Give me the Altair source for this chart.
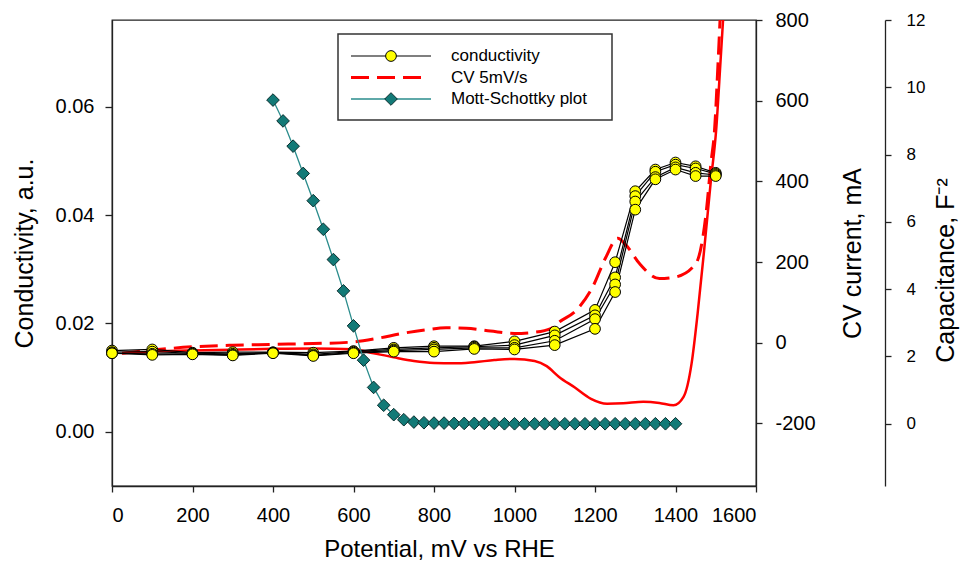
import altair as alt
import pandas as pd

# ---------------- data ----------------
cond_potential = [0, 100, 200, 300, 400, 500, 600, 700, 800, 900, 1000, 1100,
                  1200, 1250, 1300, 1350, 1400, 1450, 1500]
cond_cycle1 = [0.0150, 0.0152, 0.0146, 0.0147, 0.0147, 0.0146, 0.0149, 0.0155, 0.0158, 0.0158,
               0.0167, 0.0185, 0.0225, 0.0313, 0.0444, 0.0484, 0.0497, 0.0490, 0.0478]
cond_cycle2 = [0.0147, 0.0148, 0.0145, 0.0144, 0.0146, 0.0143, 0.0148, 0.0152, 0.0155, 0.0157,
               0.0160, 0.0178, 0.0215, 0.0285, 0.0435, 0.0480, 0.0493, 0.0486, 0.0476]
cond_cycle3 = [0.0145, 0.0144, 0.0144, 0.0142, 0.0146, 0.0141, 0.0146, 0.0150, 0.0152, 0.0155,
               0.0155, 0.0168, 0.0208, 0.0272, 0.0425, 0.0470, 0.0488, 0.0478, 0.0474]
cond_cycle4 = [0.0145, 0.0142, 0.0143, 0.0141, 0.0145, 0.0140, 0.0145, 0.0148, 0.0148, 0.0153,
               0.0152, 0.0160, 0.0190, 0.0258, 0.0410, 0.0466, 0.0484, 0.0472, 0.0472]

cv_fwd_potential = [25, 100, 200, 300, 400, 500, 600, 650, 700, 750, 800, 850, 900, 950, 1000,
                    1050, 1080, 1110, 1150, 1190, 1230, 1270, 1320, 1360, 1395, 1420, 1440,
                    1455, 1472, 1488, 1501, 1512, 1520]
cv_fwd_current = [-26, -22, -19, -17, -15, -14, -16, -26, -36, -45, -50, -51, -48, -43, -40,
                  -45, -58, -84, -111, -139, -151, -150, -146, -149, -155, -134, -51,
                  73, 238, 403, 527, 700, 830]

cv_rev_potential = [25, 100, 200, 300, 400, 500, 600, 660, 720, 780, 830, 880, 940, 1000,
                    1050, 1090, 1112, 1153, 1194, 1227, 1256, 1277, 1310, 1360, 1400, 1451,
                    1476, 1488, 1497, 1506, 1512]
cv_rev_current = [-26, -18, -10, -6, -4, -2, 2, 11, 23, 32, 37, 36, 29, 23,
                  26, 35, 52, 80, 138, 212, 259, 242, 197, 159, 163, 197,
                  321, 445, 527, 700, 830]

ms_potential = [400, 425, 450, 475, 500, 525, 550, 575, 600, 625, 650, 675, 700, 725, 750,
                775, 800, 825, 850, 875, 900, 925, 950, 975, 1000, 1025, 1050, 1075, 1100,
                1125, 1150, 1175, 1200, 1225, 1250, 1275, 1300, 1325, 1350, 1375, 1400]
ms_capacitance = [9.62, 9.00, 8.25, 7.44, 6.63, 5.78, 4.88, 3.95, 2.91, 1.89, 1.08, 0.55,
                  0.27, 0.12, 0.05, 0.03, 0.02, 0.02, 0.01, 0.01, 0.01, 0.01, 0.01, 0.0,
                  0.0, 0.0, 0.0, 0.0, 0.0, 0.0, 0.0, 0.0, 0.0, 0.0, 0.0, 0.0, 0.0, 0.0,
                  0.0, 0.0, 0.0]

legend_labels = ["conductivity", "CV 5mV/s", "Mott-Schottky plot"]

x_ticks = [0, 200, 400, 600, 800, 1000, 1200, 1400, 1600]
cond_ticks = [0.0, 0.02, 0.04, 0.06]
cv_ticks = [-200, 0, 200, 400, 600, 800]
cap_ticks = [0, 2, 4, 6, 8, 10, 12]

# ---------------- tables ----------------
cond_rows = []
for name, vals in [("c1", cond_cycle1), ("c2", cond_cycle2), ("c3", cond_cycle3), ("c4", cond_cycle4)]:
    for p, v in zip(cond_potential, vals):
        cond_rows.append({"potential": p, "cond": v, "cycle": name})
cond_df = pd.DataFrame(cond_rows)
fwd_df = pd.DataFrame({"potential": cv_fwd_potential, "current": cv_fwd_current})
rev_df = pd.DataFrame({"potential": cv_rev_potential, "current": cv_rev_current})
ms_df = pd.DataFrame({"potential": ms_potential, "cap": ms_capacitance})
one = pd.DataFrame({"k": [0]})

FONT = "Liberation Sans, Arial, sans-serif"
W, H = 644, 466
RED = "#ff0000"
TEAL_LINE = "#2a8c8c"
TEAL_FILL = "#127a77"

x_enc = alt.X("potential:Q",
              scale=alt.Scale(domain=[0, 1600], nice=False, zero=False),
              axis=alt.Axis(values=x_ticks, title="Potential, mV vs RHE",
                            labelExpr="'' + datum.value",
                            labelFontSize=20, tickSize=6, labelPadding=13,
                            titleFontSize=24, titleY=70, titleX=327,
                            titleBaseline="alphabetic"))

# CV (right axis)
cv_y = alt.Y("current:Q",
             scale=alt.Scale(domain=[-355, 800], nice=False, zero=False),
             axis=alt.Axis(orient="right", values=cv_ticks, title="CV current, mA",
                           labelExpr="'' + datum.value",
                           labelFontSize=20, tickSize=6, labelPadding=13,
                           titleFontSize=25, titleAngle=270, titleX=96, titleY=233,
                           titleAlign="center", titleBaseline="middle"))
cv_solid = alt.Chart(fwd_df).mark_line(color=RED, strokeWidth=2.5, interpolate="monotone",
                                       clip=True).encode(x=x_enc, y=cv_y)
cv_dash = alt.Chart(rev_df).mark_line(color=RED, strokeWidth=3, strokeDash=[18, 8],
                                      interpolate="monotone", clip=True).encode(x=x_enc, y=cv_y)
cv_layer = alt.layer(cv_solid, cv_dash)

# Conductivity (left axis)
cond_y = alt.Y("cond:Q",
               scale=alt.Scale(domain=[-0.01, 0.076], nice=False, zero=False),
               axis=alt.Axis(orient="left", values=cond_ticks, format=".2f",
                             title="Conductivity, a.u.",
                             labelFontSize=20, tickSize=7, labelPadding=11,
                             titleFontSize=25, titleAngle=270, titleX=-88, titleY=233,
                             titleAlign="center", titleBaseline="middle"))
cond_line = alt.Chart(cond_df).mark_line(color="black", strokeWidth=1.2).encode(
    x=x_enc, y=cond_y, detail="cycle:N")
cond_pts = alt.Chart(cond_df).mark_circle(color="#ffff00", stroke="black", strokeWidth=1,
                                          size=115, opacity=1).encode(x=x_enc, y=cond_y)
cond_layer = alt.layer(cond_line, cond_pts)

# Mott-Schottky (third axis)
cap_y = alt.Y("cap:Q",
              scale=alt.Scale(domain=[-1.85, 12], nice=False, zero=False),
              axis=alt.Axis(orient="right", offset=129, values=cap_ticks,
                            title="Capacitance, F\u207b\u00b2",
                            labelFontSize=17, tickSize=6, labelPadding=15,
                            titleFontSize=25, titleAngle=270, titleX=60, titleY=250,
                            titleAlign="center", titleBaseline="middle"))
ms_line = alt.Chart(ms_df).mark_line(color=TEAL_LINE, strokeWidth=1.3).encode(x=x_enc, y=cap_y)
ms_pts = alt.Chart(ms_df).mark_point(shape="diamond", filled=True, fill=TEAL_FILL,
                                     stroke="#0b2e2e", strokeWidth=1, size=160,
                                     opacity=1).encode(x=x_enc, y=cap_y)
ms_layer = alt.layer(ms_line, ms_pts)

# Legend (drawn by hand)
box = alt.Chart(one).mark_rect(fill="white", stroke="#333333", strokeWidth=1.5).encode(
    x=alt.value(226), x2=alt.value(500), y=alt.value(14), y2=alt.value(100))
leg1_line = alt.Chart(one).mark_rule(color="black", strokeWidth=1.2).encode(
    x=alt.value(239), x2=alt.value(319), y=alt.value(36))
leg1_pt = alt.Chart(one).mark_circle(color="#ffff00", stroke="black", strokeWidth=1,
                                     size=115, opacity=1).encode(x=alt.value(279), y=alt.value(36))
leg2_line = alt.Chart(one).mark_rule(color=RED, strokeWidth=3, strokeDash=[18, 8]).encode(
    x=alt.value(239), x2=alt.value(311), y=alt.value(57.5))
leg3_line = alt.Chart(one).mark_rule(color=TEAL_LINE, strokeWidth=1.3).encode(
    x=alt.value(239), x2=alt.value(319), y=alt.value(79))
leg3_pt = alt.Chart(one).mark_point(shape="diamond", filled=True, fill=TEAL_FILL,
                                    stroke="#0b2e2e", strokeWidth=1, size=160,
                                    opacity=1).encode(x=alt.value(279), y=alt.value(79))
leg_texts = [
    alt.Chart(one).mark_text(align="left", baseline="middle", fontSize=17, font=FONT,
                             color="black").encode(x=alt.value(339), y=alt.value(yy),
                                                   text=alt.value(lbl))
    for lbl, yy in zip(legend_labels, [36, 57.5, 79])
]

chart = alt.layer(
    cv_layer, cond_layer, ms_layer,
    box, leg1_line, leg1_pt, leg2_line, leg3_line, leg3_pt, *leg_texts
).resolve_scale(y="independent").properties(
    width=W, height=H,
    autosize=alt.AutoSizeParams(type="none"),
    padding={"left": 104, "top": 12, "right": 204, "bottom": 74},
).configure(font=FONT).configure_view(
    stroke="#222222", strokeWidth=1.3
).configure_axis(
    grid=False, domainColor="#222222", domainWidth=1.3, tickColor="#222222", tickWidth=1.3,
    labelColor="black", titleColor="black", titleFontWeight="normal", labelFont=FONT,
    titleFont=FONT
)

chart.save("out.html", embed_options={"renderer": "svg", "actions": False})
